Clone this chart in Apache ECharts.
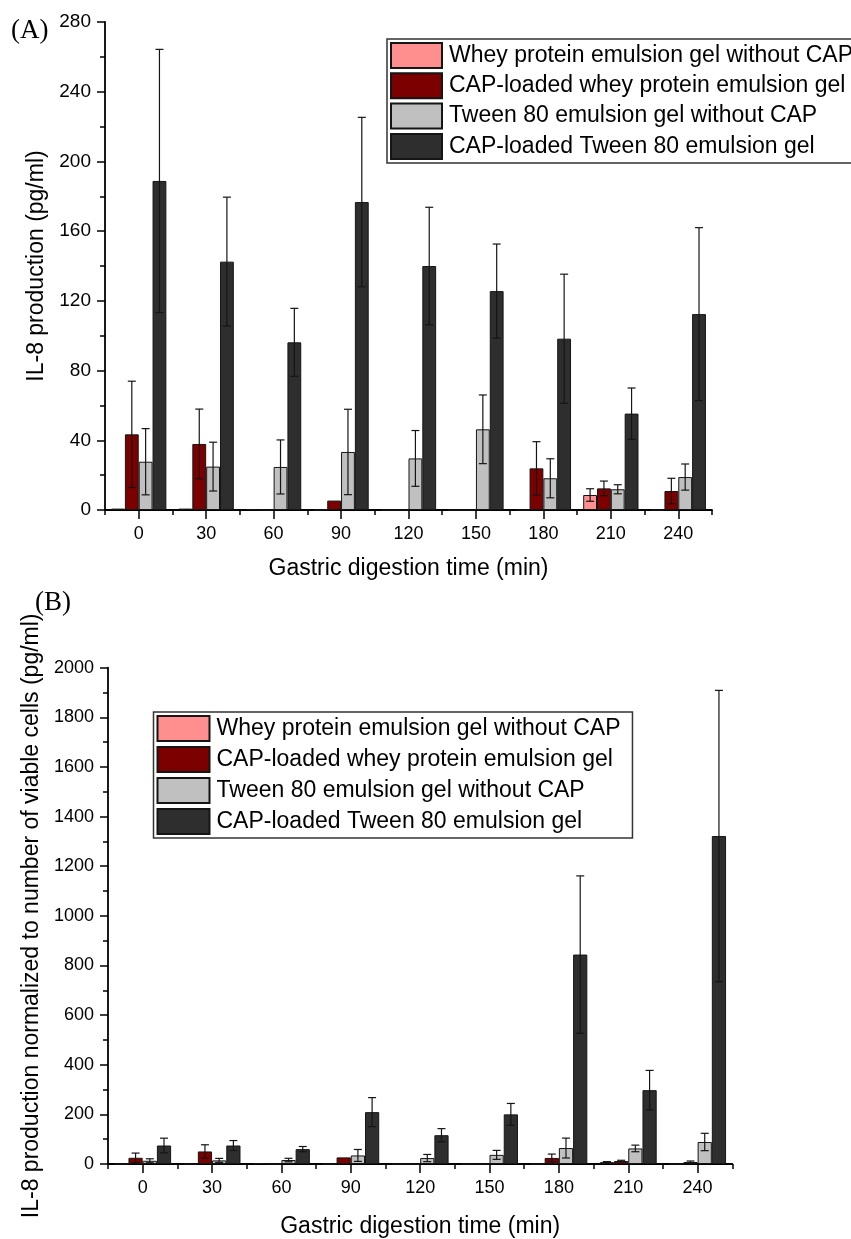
<!DOCTYPE html>
<html>
<head>
<meta charset="utf-8">
<script src="https://cdn.jsdelivr.net/npm/echarts@6/dist/echarts.min.js"></script>
<style>html,body{margin:0;padding:0;background:#fff}#c{width:851px;height:1239px}</style>
</head>
<body>
<div id="c"></div>
<script>
const categories = ['0','30','60','90','120','150','180','210','240'];
const seriesNames = ['Whey protein emulsion gel without CAP','CAP-loaded whey protein emulsion gel','Tween 80 emulsion gel without CAP','CAP-loaded Tween 80 emulsion gel'];
const colors = ['#FF8E8E','#7D0000','#C0C0C0','#2E2E2E'];

// Panel A: IL-8 production (pg/ml)
const aWheyNoCap = [0.8, 0.8, 0.4, 0, 0, 0, 0, 8.6, 0];
const aWheyNoCapSd = [0, 0, 0, 0, 0, 0, 0, 3.6, 0];
const aWheyCap = [43.4, 37.9, 0, 5.4, 0, 0, 23.9, 12.4, 10.9];
const aWheyCapSd = [30.5, 20, 0, 0, 0, 0, 15.3, 4.2, 7.3];
const aTweenNoCap = [27.7, 24.9, 24.7, 33.3, 29.6, 46.3, 18.2, 11.9, 18.9];
const aTweenNoCapSd = [19, 14, 15.5, 24.5, 16, 19.7, 11.2, 2.6, 7.5];
const aTweenCap = [188.8, 142.5, 96.2, 176.7, 140, 125.6, 98.3, 55.3, 112.4];
const aTweenCapSd = [75.5, 37, 19.5, 48.6, 33.7, 27, 37, 14.7, 49.6];

// Panel B: normalized IL-8 production (pg/ml)
const bWheyNoCap = [0, 0, 3, 0, 0, 0, 0, 7.6, 0];
const bWheyNoCapSd = [0, 0, 0, 0, 0, 0, 0, 2, 0];
const bWheyCap = [25, 50.5, 0, 26.6, 0, 0, 24.4, 12, 8];
const bWheyCapSd = [19, 27, 0, 0, 0, 0, 15.6, 3, 4];
const bTweenNoCap = [13, 14.6, 16, 34.5, 24, 36.8, 64.3, 62.7, 88.7];
const bTweenNoCapSd = [8, 8, 7, 24, 14.5, 18, 40, 13.3, 35];
const bTweenCap = [74.5, 74.5, 60, 209, 116, 200, 844, 297.6, 1321.6];
const bTweenCapSd = [29.5, 20, 10.5, 58.5, 26.5, 44, 317, 79.5, 587];

const aTicks = {min: 0, max: 280, interval: 40};
const bTicks = {min: 0, max: 2000, interval: 200};

const FONT = '"Liberation Sans", Arial, sans-serif';
const GAP = 0.18;

const chart = echarts.init(document.getElementById('c'), null, {renderer: 'canvas'});

function errRender(k) {
  return function (params, api) {
    const sd = api.value(2);
    if (!sd) return null;
    const x = api.value(0), v = api.value(1);
    const band = api.size([1, 0])[0];
    const bw = band * (1 - GAP) / 4;
    const off = (k - 1.5) * bw;
    const t = api.coord([x, v + sd]);
    const b = api.coord([x, v - sd]);
    const cx = t[0] + off;
    const cap = 4;
    const st = {stroke: '#151515', lineWidth: 1.2};
    return {type: 'group', children: [
      {type: 'line', shape: {x1: cx, y1: t[1], x2: cx, y2: b[1]}, style: st},
      {type: 'line', shape: {x1: cx - cap, y1: t[1], x2: cx + cap, y2: t[1]}, style: st},
      {type: 'line', shape: {x1: cx - cap, y1: b[1], x2: cx + cap, y2: b[1]}, style: st}
    ]};
  };
}

function panelSeries(vals, sds, xi, yi) {
  const out = [];
  vals.forEach((arr, k) => {
    out.push({
      type: 'bar', name: seriesNames[k], xAxisIndex: xi, yAxisIndex: yi,
      data: arr, barGap: '0%', barCategoryGap: (GAP * 100) + '%',
      itemStyle: {color: colors[k], borderColor: '#151515', borderWidth: 1},
      emphasis: {disabled: true}, animation: false
    });
  });
  vals.forEach((arr, k) => {
    out.push({
      type: 'custom', name: 'err' + xi + '_' + k, xAxisIndex: xi, yAxisIndex: yi,
      renderItem: errRender(k), z: 5, animation: false, silent: true,
      data: categories.map((c, i) => [i, arr[i], sds[k][i]])
    });
  });
  return out;
}

function xAxes(gi, nameGap) {
  return [
    {type: 'category', gridIndex: gi, data: categories, boundaryGap: true,
     axisLine: {lineStyle: {color: '#000', width: 1.8}},
     axisTick: {show: true, length: 5, lineStyle: {color: '#000', width: 1.5}},
     axisLabel: {color: '#000', fontSize: 18, fontFamily: FONT, margin: 15},
     name: 'Gastric digestion time (min)', nameLocation: 'middle', nameGap: nameGap,
     nameTextStyle: {color: '#000', fontSize: 23, fontFamily: FONT}},
    {type: 'category', gridIndex: gi, data: categories, position: 'bottom',
     axisLine: {show: false},
     axisTick: {show: true, alignWithLabel: true, length: 9, lineStyle: {color: '#000', width: 1.5}},
     axisLabel: {show: false}}
  ];
}

function yAxis(gi, ticks, name, nameGap, fs) {
  return {type: 'value', gridIndex: gi, min: ticks.min, max: ticks.max, interval: ticks.interval,
    splitLine: {show: false},
    axisLine: {show: true, lineStyle: {color: '#000', width: 1.8}},
    axisTick: {show: true, length: 8, lineStyle: {color: '#000', width: 1.5}},
    minorTick: {show: true, splitNumber: 2, length: 5, lineStyle: {color: '#000', width: 1.5}},
    axisLabel: {color: '#000', fontSize: fs, fontFamily: FONT, margin: 14, formatter: v => String(v)},
    name: name, nameLocation: 'middle', nameGap: nameGap, nameRotate: 90,
    nameTextStyle: {color: '#000', fontSize: 23, fontFamily: FONT}};
}

function legend(left, top, w, h) {
  return {orient: 'vertical', left: left, top: top, data: seriesNames,
    itemWidth: w, itemHeight: 25, itemGap: h, icon: 'rect',
    padding: [3, 12, 3, 3], borderColor: '#333', borderWidth: 1.5,
    selectedMode: false,
    textStyle: {color: '#000', fontSize: 23, fontFamily: FONT, padding: [0, 0, 0, 2]}};
}

const option = {
  animation: false,
  backgroundColor: '#fff',
  grid: [
    {left: 105, top: 22, width: 607, height: 488},
    {left: 108, top: 667.7, width: 624.3, height: 500.6}
  ],
  xAxis: [...xAxes(0, 47), ...xAxes(1, 51)],
  yAxis: [yAxis(0, aTicks, 'IL-8 production (pg/ml)', 55, 19),
          yAxis(1, bTicks, 'IL-8 production normalized to number of viable cells (pg/ml)', 61, 18)],
  legend: [legend(387, 39, 51, 3.3), legend(153.5, 712, 52, 4)],
  graphic: [
    {type: 'text', left: 11, top: 17, style: {text: '(A)', fontSize: 27, fontFamily: '"Liberation Serif", "Times New Roman", serif', fill: '#000'}},
    {type: 'text', left: 35, top: 589, style: {text: '(B)', fontSize: 27, fontFamily: '"Liberation Serif", "Times New Roman", serif', fill: '#000'}}
  ],
  series: [
    ...panelSeries([aWheyNoCap, aWheyCap, aTweenNoCap, aTweenCap], [aWheyNoCapSd, aWheyCapSd, aTweenNoCapSd, aTweenCapSd], 0, 0),
    ...panelSeries([bWheyNoCap, bWheyCap, bTweenNoCap, bTweenCap], [bWheyNoCapSd, bWheyCapSd, bTweenNoCapSd, bTweenCapSd], 2, 1)
  ]
};
chart.setOption(option);
</script>
</body>
</html>
